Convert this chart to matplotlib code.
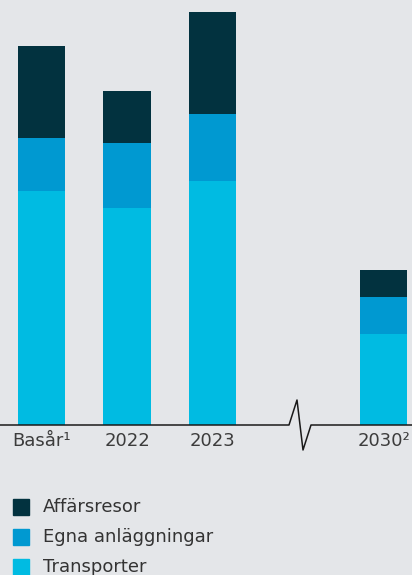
import numpy as np
from matplotlib import pyplot as plt
from matplotlib.lines import Line2D
from matplotlib.patches import Rectangle

years = ['Basår¹', '2022', '2023', '2030²']
xpos = [0, 1, 2, 4]
transporter = [23.4, 21.7, 24.4, 9.1]
egna = [5.3, 6.5, 6.7, 3.7]
affarsresor = [9.2, 5.2, 10.2, 2.7]
series = ['Affärsresor', 'Egna anläggningar', 'Transporter']
colors = ['#02323f', '#0099d1', '#00bbe2']

BG = '#e4e6e9'
W, H = 412, 575

fig = plt.figure(figsize=(W/100, H/100), dpi=100, facecolor=BG)
ax = fig.add_axes([0, 1-425/H, 1, 425/H])
ax.set_facecolor(BG)

bw = 0.55
ax.bar(xpos, transporter, bw, color=colors[2])
ax.bar(xpos, egna, bw, bottom=transporter, color=colors[1])
bot = np.array(transporter) + np.array(egna)
ax.bar(xpos, affarsresor, bw, bottom=bot, color=colors[0])

ax.set_xlim(-41.5/85.5, (W-41.5)/85.5)
ax.set_ylim(0, 42.5)
for s in ax.spines.values():
    s.set_visible(False)
ax.set_yticks([])
ax.set_xticks(xpos, years)
ax.tick_params(axis='x', length=0, pad=5, labelsize=13, labelcolor='#3c3c3c')

# baseline with break symbol
px = [0, 289, 297, 303, 311, W]
py = [425, 425, 400, 450, 425, 425]
fig.add_artist(Line2D([x/W for x in px], [1-y/H for y in py],
                      transform=fig.transFigure, color='#1a1a1a', lw=1.1))

# legend
for i, (name, c) in enumerate(zip(series, colors)):
    yc = 507 + i*30
    fig.add_artist(Rectangle((13/W, 1-(yc+8)/H), 16/W, 16/H,
                             transform=fig.transFigure, color=c))
    fig.text(43/W, 1-yc/H, name, fontsize=13, color='#333333', va='center')

fig.savefig('out.png', dpi=100, facecolor=BG)
